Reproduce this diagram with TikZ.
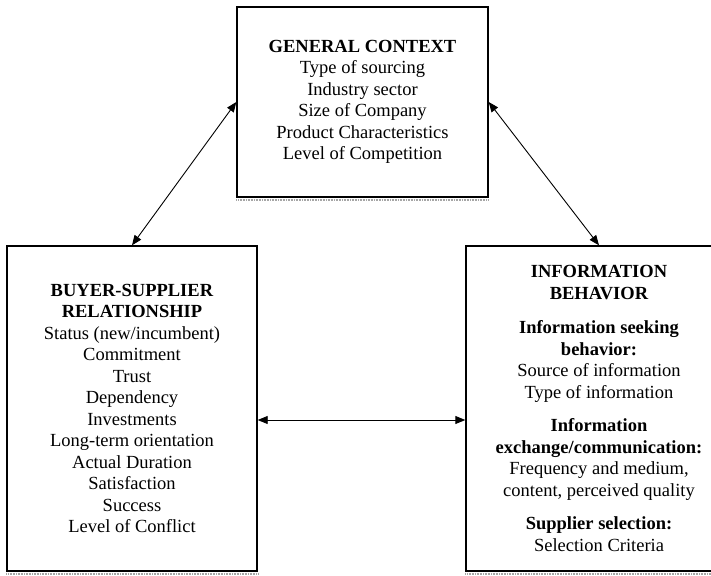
\documentclass[tikz,border=0pt]{standalone}
\usepackage{fontspec}
\setmainfont{Liberation Serif}
\usetikzlibrary{arrows.meta}

\begin{document}
\begin{tikzpicture}[
    x=1pt, y=-1pt,
    box/.style={draw, line width=1.4pt, align=center, inner sep=0pt,
        font=\fontsize{18.5}{21.5}\selectfont},
    shadowline/.style={gray!70, line width=2.4pt, dash pattern=on 1pt off 0.6pt},
    link/.style={{Triangle[length=10pt,width=8pt]}-{Triangle[length=10pt,width=8pt]}, line width=0.9pt}
]
\useasboundingbox (0,0) rectangle (711,575);

% Riquadri
\node[box, minimum width=251pt, minimum height=190pt] (general) at (362.5,102) {
\textbf{GENERAL CONTEXT}\\
Type of sourcing\\
Industry sector\\
Size of Company\\
Product Characteristics\\
Level of Competition};

\node[box, minimum width=250pt, minimum height=325pt] (buyer) at (132,408.5) {
\textbf{BUYER-SUPPLIER}\\
\textbf{RELATIONSHIP}\\
Status (new/incumbent)\\
Commitment\\
Trust\\
Dependency\\
Investments\\
Long-term orientation\\
Actual Duration\\
Satisfaction\\
Success\\
Level of Conflict};

\node[box, minimum width=266pt, minimum height=325pt] (info) at (599,408.5) {
\textbf{INFORMATION}\\
\textbf{BEHAVIOR}\\[13pt]
\textbf{Information seeking}\\
\textbf{behavior:}\\
Source of information\\
Type of information\\[12pt]
\textbf{Information}\\
\textbf{exchange/communication:}\\
Frequency and medium,\\
content, perceived quality\\[12pt]
\textbf{Supplier selection:}\\
Selection Criteria};

% Ombre
\draw[shadowline] ([yshift=-2.4pt]general.south west) -- ([yshift=-2.4pt]general.south east);
\draw[shadowline] ([yshift=-2.4pt]buyer.south west) -- ([yshift=-2.4pt]buyer.south east);
\draw[shadowline] ([yshift=-2.4pt]info.south west) -- ([yshift=-2.4pt]info.south east);

% Frecce
\draw[link] (general.west) -- (buyer.north);
\draw[link] (general.east) -- (info.north);
\draw[link] ([yshift=-11.5pt]buyer.east) -- ([yshift=-11.5pt]info.west);
\end{tikzpicture}
\end{document}
